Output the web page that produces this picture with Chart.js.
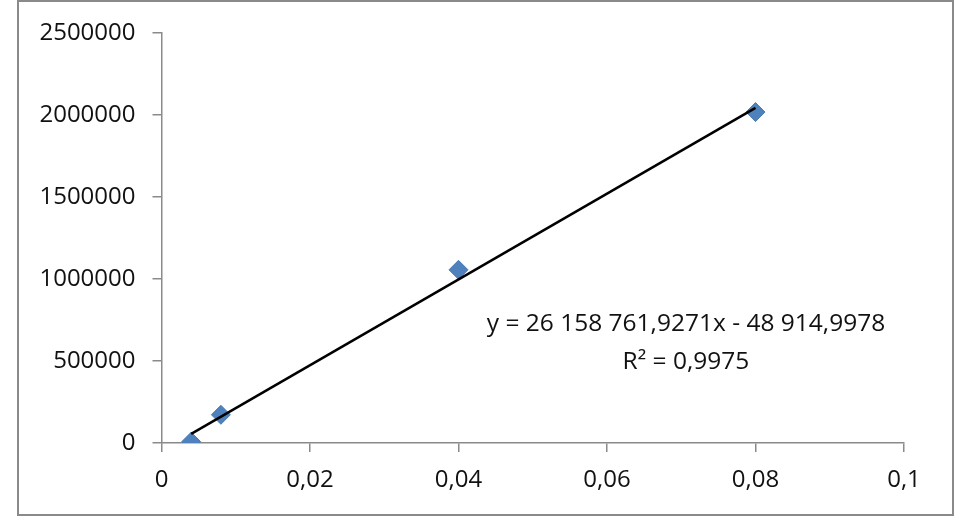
<!DOCTYPE html>
<html>
<head>
<meta charset="utf-8">
<script src="https://cdn.jsdelivr.net/npm/chart.js@4/dist/chart.umd.min.js"></script>
<style>
  html, body { margin: 0; padding: 0; background: #fff; }
  #wrap { position: absolute; left: 0; top: 0; width: 968px; height: 517px; }
  #frame { position: absolute; left: 17px; top: 0px; width: 933px; height: 512px; border: 2px solid #8a8a8a; pointer-events: none; }
</style>
</head>
<body>
<div id="wrap"><canvas id="c" width="968" height="517"></canvas></div>
<div id="frame"></div>
<script>
const xValues = [0.004, 0.008, 0.04, 0.08];
const yValues = [8000, 172000, 1056000, 2018000];
const xTicks = [0, 0.02, 0.04, 0.06, 0.08, 0.1];
const yTicks = [0, 500000, 1000000, 1500000, 2000000, 2500000];
const slope = 26158761.9271;
const intercept = -48914.9978;
const equationText = 'y = 26 158 761,9271x - 48 914,9978';
const r2Text = 'R² = 0,9975';

const points = xValues.map((x, i) => ({ x: x, y: yValues[i] }));
const xMin = Math.min(...xValues), xMax = Math.max(...xValues);
const trend = [{ x: xMin, y: slope * xMin + intercept }, { x: xMax, y: slope * xMax + intercept }];

const FONT = "'Open Sans', 'Noto Sans', sans-serif";
const AXIS = '#8a8a8a';
const TEXT = '#111111';

const eqPlugin = {
  id: 'eq',
  afterDatasetsDraw(chart) {
    const ctx = chart.ctx;
    ctx.save();
    ctx.fillStyle = TEXT;
    ctx.font = '24.5px ' + FONT;
    ctx.textAlign = 'center';
    ctx.textBaseline = 'middle';
    ctx.fillText(equationText, 686, 324);
    ctx.fillText(r2Text, 686, 362);
    ctx.restore();
  }
};

new Chart(document.getElementById('c'), {
  type: 'scatter',
  data: {
    datasets: [
      {
        data: points,
        pointStyle: 'rectRot',
        pointRadius: 9.5,
        pointHoverRadius: 9.5,
        backgroundColor: '#4f81bd',
        borderColor: '#4a7ab4',
        borderWidth: 1,
        order: 2
      },
      {
        type: 'line',
        data: trend,
        borderColor: '#000000',
        borderWidth: 2.5,
        pointRadius: 0,
        fill: false,
        order: 1
      }
    ]
  },
  options: {
    responsive: false,
    animation: false,
    events: [],
    layout: { padding: { left: 0, right: 64, top: 33, bottom: 0 } },
    plugins: { legend: { display: false }, tooltip: { enabled: false } },
    scales: {
      x: {
        type: 'linear',
        min: 0, max: 0.1,
        afterBuildTicks(s) { s.ticks = xTicks.map(v => ({ value: v })); },
        afterFit(s) { s.height = 74; },
        border: { display: true, color: AXIS, width: 1.5 },
        grid: { display: true, drawOnChartArea: false, drawTicks: true, tickLength: 9, color: AXIS, lineWidth: 1.5 },
        ticks: {
          color: TEXT,
          font: { family: FONT, size: 24 },
          padding: 14,
          maxRotation: 0,
          callback: v => Number(v.toFixed(4)).toString().replace('.', ',')
        }
      },
      y: {
        type: 'linear',
        min: 0, max: 2500000,
        afterBuildTicks(s) { s.ticks = yTicks.map(v => ({ value: v })); },
        afterFit(s) { s.width = 161.5; },
        border: { display: true, color: AXIS, width: 1.5 },
        grid: { display: true, drawOnChartArea: false, drawTicks: true, tickLength: 9, color: AXIS, lineWidth: 1.5 },
        ticks: {
          color: TEXT,
          font: { family: FONT, size: 24 },
          padding: 17,
          callback: v => String(v)
        }
      }
    }
  },
  plugins: [eqPlugin]
});
</script>
</body>
</html>
